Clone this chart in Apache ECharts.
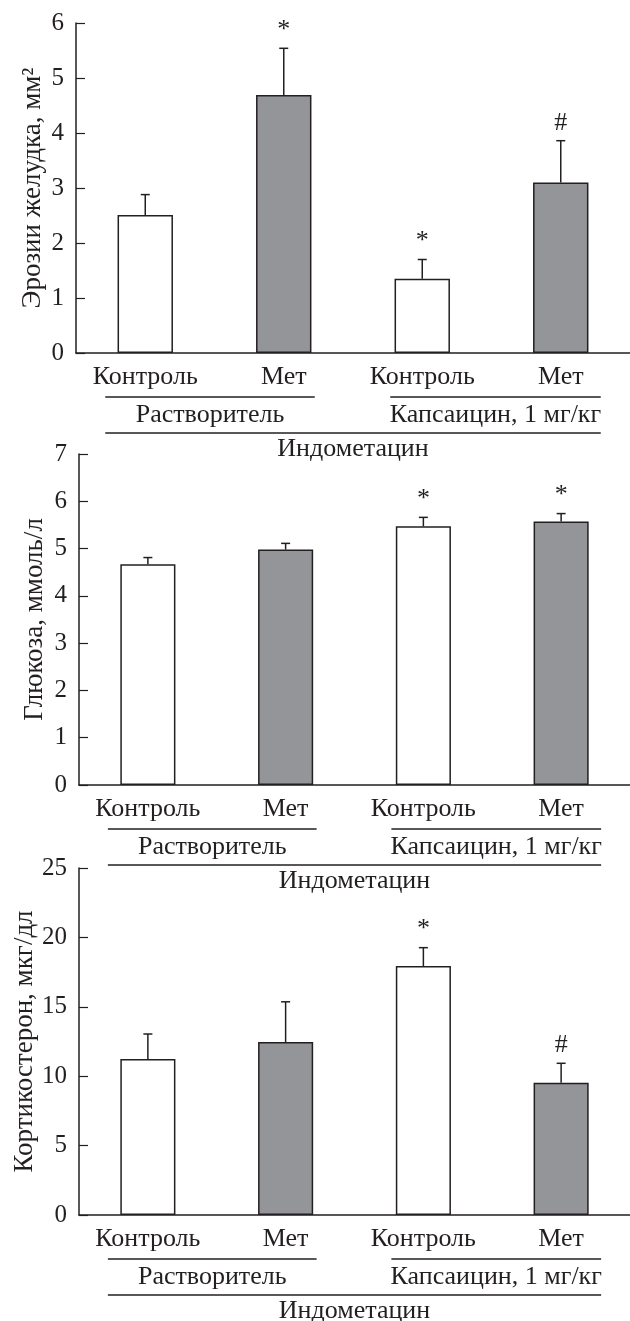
<!DOCTYPE html>
<html>
<head>
<meta charset="utf-8">
<script src="https://cdn.jsdelivr.net/npm/echarts@6/dist/echarts.min.js"></script>
<style>
  html, body { margin: 0; padding: 0; background: #fff; }
  #charts { width: 630px; height: 1321px; }
</style>
</head>
<body>
<div id="charts"></div>
<script>
// Categories shared by the three panels
const categories = ['Контроль', 'Мет', 'Контроль', 'Мет'];
const groupLabels = ['Растворитель', 'Капсаицин, 1 мг/кг'];
const outerLabel = 'Индометацин';

// Panel 1: gastric erosions (mean, SEM, significance marks)
const erosionMean = [2.51, 4.69, 1.35, 3.10];
const erosionSem = [0.37, 0.85, 0.35, 0.76];
const erosionMarks = ['', '*', '*', '#'];

// Panel 2: glucose
const glucoseMean = [4.67, 4.98, 5.47, 5.57];
const glucoseSem = [0.14, 0.13, 0.19, 0.17];
const glucoseMarks = ['', '', '*', '*'];

// Panel 3: corticosterone
const corticoMean = [11.24, 12.46, 17.94, 9.53];
const corticoSem = [1.80, 2.90, 1.32, 1.40];
const corticoMarks = ['', '', '*', '#'];

// Axis names and ranges
const axisNames = ['Эрозии желудка, мм²', 'Глюкоза, ммоль/л', 'Кортикостерон, мкг/дл'];
const axisMax = [6, 7, 25];
const axisStep = [1, 1, 5];

const ink = '#231f20';
const grey = '#939598';
const font = '"Liberation Serif", "Times New Roman", serif';

const panels = [
    {mean: erosionMean, sem: erosionSem, marks: erosionMarks},
    {mean: glucoseMean, sem: glucoseSem, marks: glucoseMarks},
    {mean: corticoMean, sem: corticoSem, marks: corticoMarks}
];
const grids = [
    {left: 76, top: 23, width: 556, height: 330},
    {left: 79, top: 454, width: 553, height: 331},
    {left: 79, top: 868, width: 553, height: 347}
];
const nameGaps = [30, 31, 41];

// Error bar (upper half only) plus significance mark
function errorRenderer(marks) {
    return function (params, api) {
        const idx = api.value(0);
        const base = api.coord([idx, api.value(1)]);
        const top = api.coord([idx, api.value(2)]);
        const lineStyle = {stroke: ink, lineWidth: 1.5};
        const children = [
            {type: 'line', shape: {x1: base[0], y1: base[1], x2: top[0], y2: top[1]}, style: lineStyle},
            {type: 'line', shape: {x1: top[0] - 4.5, y1: top[1], x2: top[0] + 4.5, y2: top[1]}, style: lineStyle}
        ];
        if (marks[idx]) {
            children.push({
                type: 'text',
                style: {
                    text: marks[idx], x: top[0], y: top[1] - 5,
                    font: '26px ' + font, fill: ink,
                    align: 'center', verticalAlign: 'bottom',
                    textAlign: 'center', textVerticalAlign: 'bottom'
                }
            });
        }
        return {type: 'group', children: children};
    };
}

let xAxes = [], yAxes = [], series = [];
panels.forEach(function (p, i) {
    xAxes.push({
        type: 'category', gridIndex: i, data: categories,
        axisLine: {lineStyle: {color: ink, width: 1.5}},
        axisTick: {inside: true, length: 8, alignWithLabel: false, lineStyle: {color: ink, width: 1.2}},
        axisLabel: {color: ink, fontFamily: font, fontSize: 26, margin: 11}
    });
    yAxes.push({
        type: 'value', gridIndex: i, min: 0, max: axisMax[i], interval: axisStep[i],
        name: axisNames[i], nameLocation: 'middle', nameGap: nameGaps[i], nameRotate: 90,
        nameMoveOverlap: false,
        nameTextStyle: {color: ink, fontFamily: font, fontSize: 27},
        axisLine: {show: true, lineStyle: {color: ink, width: 1.5}},
        axisTick: {show: true, inside: true, length: 9, lineStyle: {color: ink, width: 1.2}},
        axisLabel: {color: ink, fontFamily: font, fontSize: 25, margin: 12},
        splitLine: {show: false}
    });
    series.push({
        type: 'bar', xAxisIndex: i, yAxisIndex: i, barWidth: '40%',
        data: p.mean.map(function (v, k) {
            return {value: v, itemStyle: {color: k % 2 ? grey : '#ffffff'}};
        }),
        itemStyle: {borderColor: ink, borderWidth: 1.5},
        silent: true
    });
    series.push({
        type: 'custom', xAxisIndex: i, yAxisIndex: i,
        renderItem: errorRenderer(p.marks),
        data: p.mean.map(function (v, k) { return [k, v, v + p.sem[k]]; }),
        z: 3, silent: true
    });
});

const myChart = echarts.init(document.getElementById('charts'), null, {renderer: 'canvas'});
myChart.setOption({
    animation: false,
    backgroundColor: '#fff',
    grid: grids,
    xAxis: xAxes,
    yAxis: yAxes,
    series: series
});

// Group brackets under each x axis, positioned from the category scale
let graphics = [];
function hline(x1, x2, y) {
    graphics.push({type: 'line', shape: {x1: x1, y1: y, x2: x2, y2: y}, style: {stroke: ink, lineWidth: 1.5}, silent: true});
}
function label(text, x, y) {
    graphics.push({type: 'text', x: x, y: y, style: {text: text, font: '26px ' + font, fill: ink, align: 'center', verticalAlign: 'middle'}, silent: true});
}
panels.forEach(function (p, i) {
    const c = categories.map(function (name, k) {
        return myChart.convertToPixel({gridIndex: i}, [k, 0]);
    });
    const y0 = c[0][1];
    const a1 = c[0][0] - 40, b1 = c[1][0] + 31;
    const a2 = c[2][0] - 32, b2 = c[3][0] + 40;
    hline(a1, b1, y0 + 44);
    hline(a2, b2, y0 + 44);
    label(groupLabels[0], (a1 + b1) / 2, y0 + 62);
    label(groupLabels[1], (a2 + b2) / 2, y0 + 62);
    hline(a1, b2, y0 + 80);
    label(outerLabel, (a1 + b2) / 2, y0 + 96);
});
myChart.setOption({graphic: graphics});
</script>
</body>
</html>
